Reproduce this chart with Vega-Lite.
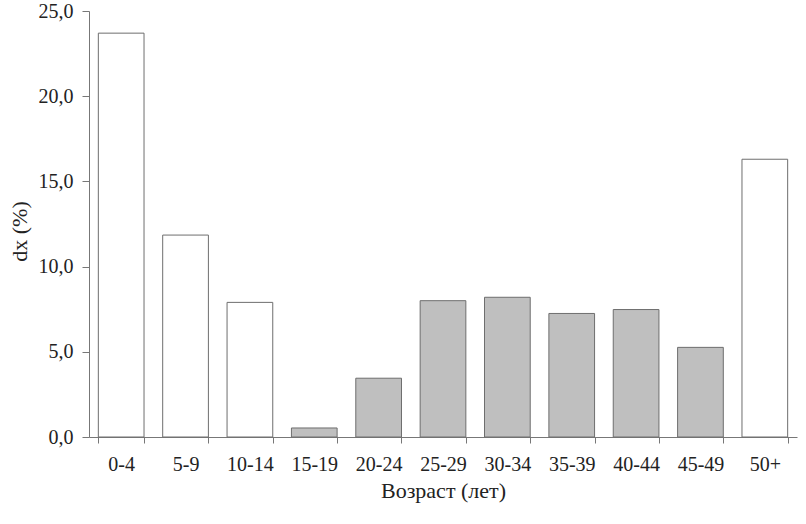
{
  "$schema": "https://vega.github.io/schema/vega-lite/v6.json",
  "autosize": "none",
  "width": 708,
  "height": 426,
  "padding": {"left": 89, "top": 11, "right": 9, "bottom": 87},
  "background": "white",
  "data": {"values": [
    {"age": "0-4", "dx": 23.7, "group": "a"},
    {"age": "5-9", "dx": 11.85, "group": "a"},
    {"age": "10-14", "dx": 7.9, "group": "a"},
    {"age": "15-19", "dx": 0.53, "group": "b"},
    {"age": "20-24", "dx": 3.45, "group": "b"},
    {"age": "25-29", "dx": 8.0, "group": "b"},
    {"age": "30-34", "dx": 8.2, "group": "b"},
    {"age": "35-39", "dx": 7.25, "group": "b"},
    {"age": "40-44", "dx": 7.48, "group": "b"},
    {"age": "45-49", "dx": 5.26, "group": "b"},
    {"age": "50+", "dx": 16.3, "group": "a"}
  ]},
  "mark": {"type": "bar", "stroke": "#6e6e6e", "strokeWidth": 1},
  "encoding": {
    "x": {
      "field": "age", "type": "nominal", "sort": null,
      "scale": {"paddingInner": 0.29, "paddingOuter": 0.145},
      "axis": {
        "title": "Возраст (лет)", "labelAngle": 0, "tickBand": "extent",
        "domainColor": "#777", "tickColor": "#777", "tickSize": 6,
        "labelFont": "Liberation Serif", "labelFontSize": 20, "labelColor": "#222",
        "labelPadding": 11,
        "titleFont": "Liberation Serif", "titleFontSize": 22, "titleFontWeight": "normal",
        "titleColor": "#222", "titlePadding": 6
      }
    },
    "y": {
      "field": "dx", "type": "quantitative",
      "scale": {"domain": [0, 25], "nice": false},
      "axis": {
        "title": "dx (%)", "grid": false, "values": [0, 5, 10, 15, 20, 25],
        "labelExpr": "replace(format(datum.value, '.1f'), '.', ',')",
        "domainColor": "#777", "tickColor": "#777", "tickSize": 7,
        "labelFont": "Liberation Serif", "labelFontSize": 20, "labelColor": "#222",
        "labelPadding": 9,
        "titleFont": "Liberation Serif", "titleFontSize": 22, "titleFontWeight": "normal",
        "titleColor": "#222", "titlePadding": 7, "titleY": 220
      }
    },
    "fill": {
      "field": "group", "type": "nominal",
      "scale": {"domain": ["a", "b"], "range": ["#ffffff", "#bfbfbf"]},
      "legend": null
    }
  },
  "config": {"view": {"stroke": null}}
}
